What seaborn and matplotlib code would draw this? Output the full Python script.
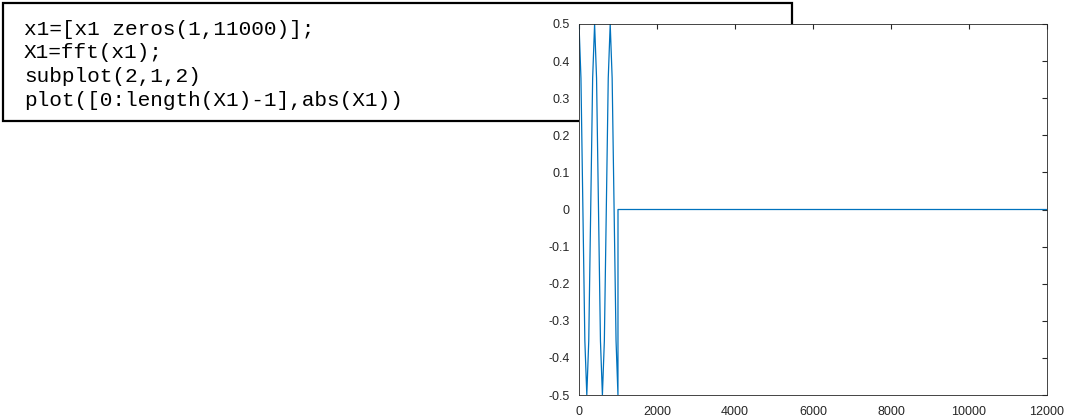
import matplotlib
matplotlib.use("Agg")
import matplotlib.pyplot as plt
from matplotlib.patches import Rectangle
import pandas as pd
import seaborn as sns

# Signal samples: a 1000-sample tone followed by zero padding up to 12000 samples
sample_index = [0, 50, 100, 150, 200, 250, 300, 350, 400, 450, 500,
                550, 600, 650, 700, 750, 800, 850, 900, 950, 999,
                1000, 11999]
amplitude = [0.5, 0.354, 0.0, -0.354, -0.5, -0.354, 0.0, 0.354, 0.5, 0.354, 0.0,
             -0.354, -0.5, -0.354, 0.0, 0.354, 0.5, 0.354, 0.0, -0.354, -0.5,
             0.0, 0.0]

x_ticks = [0, 2000, 4000, 6000, 8000, 10000, 12000]
y_ticks = [-0.5, -0.4, -0.3, -0.2, -0.1, 0, 0.1, 0.2, 0.3, 0.4, 0.5]
y_tick_labels = ["-0.5", "-0.4", "-0.3", "-0.2", "-0.1", "0",
                 "0.1", "0.2", "0.3", "0.4", "0.5"]

code_lines = [
    "x1=[x1 zeros(1,11000)];",
    "X1=fft(x1);",
    "subplot(2,1,2)",
    "plot([0:length(X1)-1],abs(X1))",
]

sns.set_theme(style="white")
plt.rcParams["font.family"] = ["Liberation Sans", "DejaVu Sans"]

W, H = 1070, 420
fig = plt.figure(figsize=(W / 100, H / 100), dpi=100, facecolor="white")

# axes placement in pixels
left, right, top, bottom = 579, 1047, 24, 395
ax = fig.add_axes([left / W, 1 - bottom / H, (right - left) / W, (bottom - top) / H])
ax.set_facecolor("white")

df = pd.DataFrame({"n": sample_index, "value": amplitude})
sns.lineplot(data=df, x="n", y="value", ax=ax, color="#0072BD",
             linewidth=0.9, estimator=None, sort=False)

ax.set_xlim(0, 12000)
ax.set_ylim(-0.5, 0.5)
ax.set_xticks(x_ticks)
ax.set_xticklabels([str(t) for t in x_ticks])
ax.set_yticks(y_ticks)
ax.set_yticklabels(y_tick_labels)
ax.set_xlabel("")
ax.set_ylabel("")

for s in ax.spines.values():
    s.set_visible(True)
    s.set_color("#262626")
    s.set_linewidth(0.6)

ax.tick_params(axis="both", which="major", direction="in", length=3.3, width=0.8,
               color="#262626", labelsize=9, labelcolor="#262626",
               top=True, right=True)
ax.tick_params(axis="x", pad=8)
ax.tick_params(axis="y", pad=6.5)

# code listing box sitting behind the axes
box = Rectangle((3 / W, 1 - 121 / H), (792 - 3) / W, (121 - 3) / H,
                transform=fig.transFigure, facecolor="white", edgecolor="black",
                linewidth=1.6, zorder=-2)
fig.patches.append(box)

baselines = [35, 58.5, 82, 105.5]
for line, yb in zip(code_lines, baselines):
    fig.text(24 / W, 1 - yb / H, line, fontsize=15.2,
             family=["Liberation Mono", "DejaVu Sans Mono"],
             color="black", va="baseline", ha="left", zorder=-1)

fig.savefig("out.png", dpi=100, facecolor="white")
